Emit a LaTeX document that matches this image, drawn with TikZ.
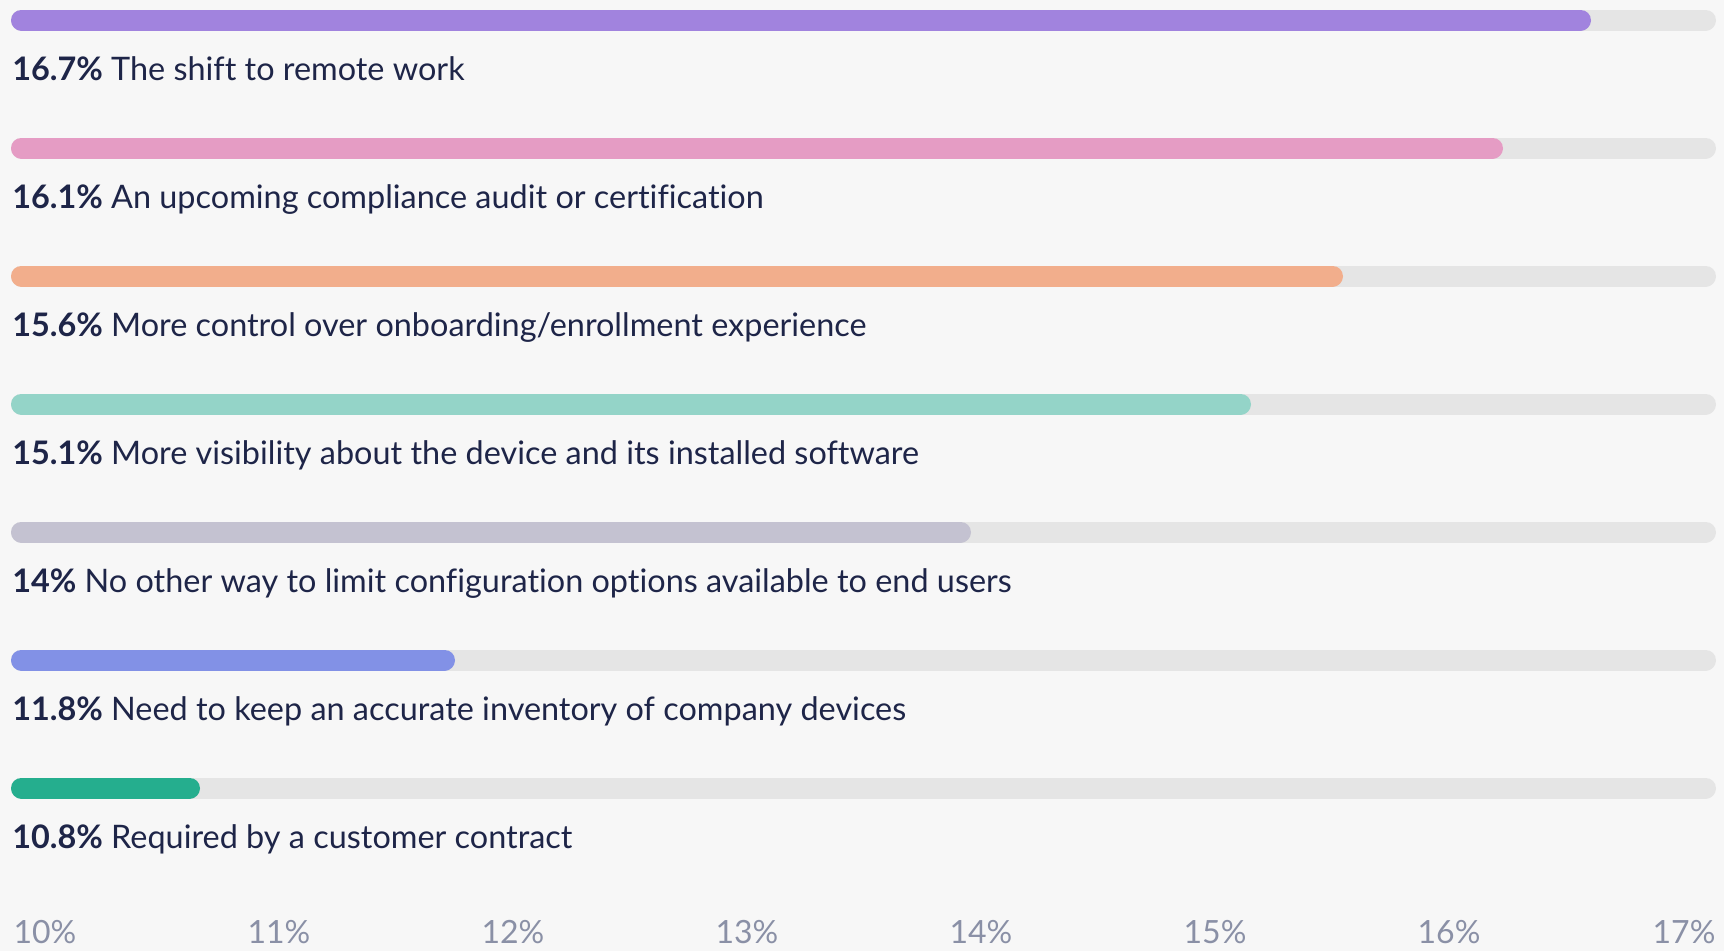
\documentclass[tikz,border=0pt]{standalone}
\usepackage{fontspec}
\setmainfont{Lato}[Ligatures={NoCommon,TeX}]
\usepackage{tikz}

\tikzset{
  track/.style={line cap=round, line width=15.75pt, color={rgb, 255:red, 229; green, 229; blue, 229}},
  fillbar/.style={line cap=round, line width=15.75pt},
  rowlabel/.style={anchor=base west, inner sep=0pt, font=\fontsize{24.3}{29}\selectfont, text={rgb, 255:red, 30; green, 37; blue, 72}},
  ticklabel/.style={anchor=base, inner sep=0pt, font=\fontsize{24}{29}\selectfont, text={rgb, 255:red, 138; green, 144; blue, 166}}
}

\begin{document}
\begin{tikzpicture}[x=0.75pt,y=0.75pt,yscale=-1,xscale=1]
%Background
\path [fill={rgb, 255:red, 247; green, 247; blue, 247}] (0,0) rectangle (1724,951);

%Bar: remote work
\draw [track] (21.5,20) -- (1705.5,20) ;
\draw [fillbar, color={rgb, 255:red, 161; green, 131; blue, 222}] (21.5,20) -- (1580.5,20) ;
%Bar: compliance audit
\draw [track] (21.5,148) -- (1705.5,148) ;
\draw [fillbar, color={rgb, 255:red, 229; green, 156; blue, 196}] (21.5,148) -- (1492.5,148) ;
%Bar: onboarding
\draw [track] (21.5,276) -- (1705.5,276) ;
\draw [fillbar, color={rgb, 255:red, 242; green, 174; blue, 140}] (21.5,276) -- (1332.5,276) ;
%Bar: visibility
\draw [track] (21.5,404) -- (1705.5,404) ;
\draw [fillbar, color={rgb, 255:red, 148; green, 212; blue, 200}] (21.5,404) -- (1240.5,404) ;
%Bar: configuration options
\draw [track] (21.5,532) -- (1705.5,532) ;
\draw [fillbar, color={rgb, 255:red, 196; green, 194; blue, 209}] (21.5,532) -- (960.5,532) ;
%Bar: inventory
\draw [track] (21.5,660) -- (1705.5,660) ;
\draw [fillbar, color={rgb, 255:red, 130; green, 145; blue, 230}] (21.5,660) -- (444.5,660) ;
%Bar: customer contract
\draw [track] (21.5,788) -- (1705.5,788) ;
\draw [fillbar, color={rgb, 255:red, 37; green, 174; blue, 142}] (21.5,788) -- (189.5,788) ;

% Text Node
\node [rowlabel] (remote) at (12,80) {\textbf{16.7\%} The shift to remote work};
% Text Node
\node [rowlabel] (audit) at (12,208) {\textbf{16.1\%} An upcoming compliance audit or certification};
% Text Node
\node [rowlabel] (onboard) at (12,336) {\textbf{15.6\%} More control over onboarding/enrollment experience};
% Text Node
\node [rowlabel] (visib) at (12,464) {\textbf{15.1\%} More visibility about the device and its installed software};
% Text Node
\node [rowlabel] (config) at (12,592) {\textbf{14\%} No other way to limit configuration options available to end users};
% Text Node
\node [rowlabel] (invent) at (12,720) {\textbf{11.8\%} Need to keep an accurate inventory of company devices};
% Text Node
\node [rowlabel] (contract) at (12,848) {\textbf{10.8\%} Required by a customer contract};

% Axis labels
\node [ticklabel] (t10) at (45,943) {10\%};
\node [ticklabel] (t11) at (279,943) {11\%};
\node [ticklabel] (t12) at (513,943) {12\%};
\node [ticklabel] (t13) at (747,943) {13\%};
\node [ticklabel] (t14) at (981,943) {14\%};
\node [ticklabel] (t15) at (1215,943) {15\%};
\node [ticklabel] (t16) at (1449,943) {16\%};
\node [ticklabel] (t17) at (1684,943) {17\%};

\end{tikzpicture}
\end{document}
